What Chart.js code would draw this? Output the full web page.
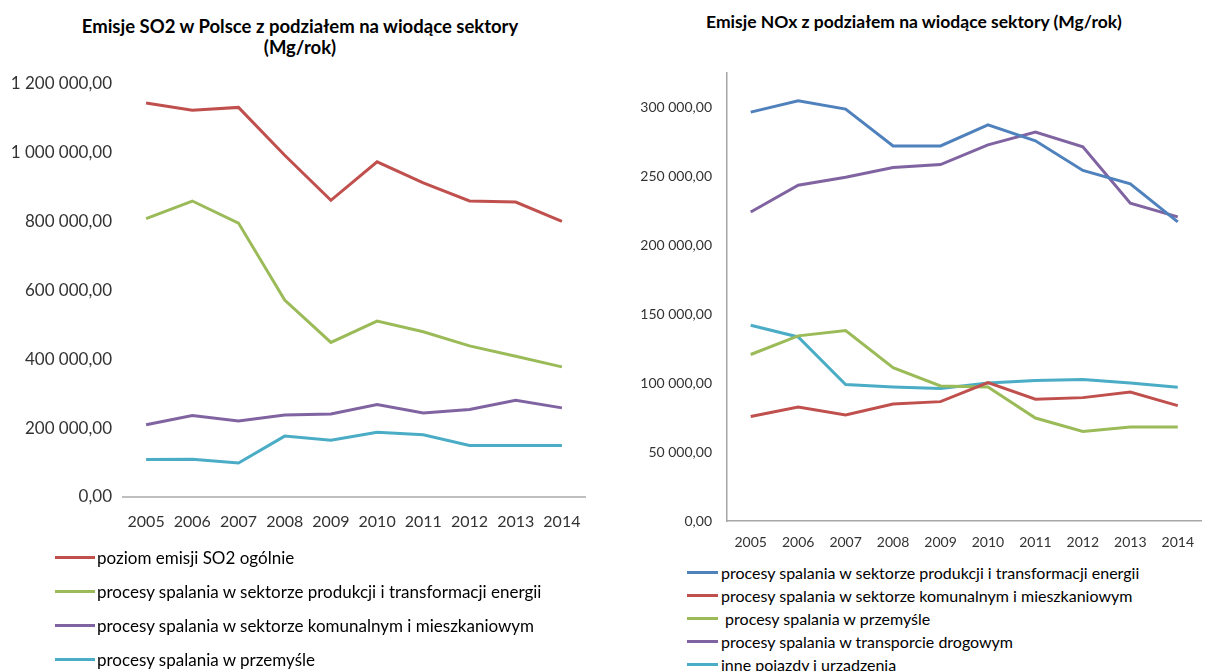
<!DOCTYPE html>
<html lang="pl">
<head>
<meta charset="utf-8">
<script src="https://cdn.jsdelivr.net/npm/chart.js@4.4.1/dist/chart.umd.min.js"></script>
<style>
  html, body { margin: 0; padding: 0; background: #fff; }
  body { width: 1207px; height: 671px; position: relative; overflow: hidden; font-family: Lato, "Open Sans", sans-serif; color: #000; }
  .title { position: absolute; font-weight: bold; text-align: center; color: #000; }
  #so2-title { left: 0; top: 16px; width: 600px; font-size: 18.5px; line-height: 21px; }
  #nox-title { left: 600px; top: 11px; width: 628px; font-size: 17.5px; line-height: 22px; }
  canvas { position: absolute; top: 0; }
  #so2 { left: 0; }
  #nox { left: 600px; }
  .legend { position: absolute; color: #000; }
  .legend div { display: flex; align-items: center; white-space: pre; }
  .legend i { display: inline-block; height: 3px; flex: none; }
  #so2-legend { left: 55px; top: 540px; font-size: 17px; }
  #so2-legend div { height: 34px; }
  #so2-legend i { width: 40px; margin-right: 2px; }
  #nox-legend { left: 687px; top: 561px; font-size: 16px; }
  #nox-legend div { height: 23px; }
  #nox-legend i { width: 31px; margin-right: 3px; }
</style>
</head>
<body>
<div class="title" id="so2-title">Emisje SO2 w Polsce z podziałem na wiodące sektory<br>(Mg/rok)</div>
<div class="title" id="nox-title">Emisje NOx z podziałem na wiodące sektory (Mg/rok)</div>
<canvas id="so2" width="600" height="545"></canvas>
<canvas id="nox" width="607" height="560"></canvas>
<div class="legend" id="so2-legend"></div>
<div class="legend" id="nox-legend"></div>
<script>
const years = ["2005", "2006", "2007", "2008", "2009", "2010", "2011", "2012", "2013", "2014"];

// SO2, Mg/rok
const so2Total = [1145000, 1124000, 1132000, 993000, 862000, 974000, 913000, 860000, 857000, 801000];
const so2Energy = [809000, 860000, 796000, 572000, 449000, 511000, 480000, 439000, 409000, 378000];
const so2Communal = [210000, 237000, 221000, 238000, 241000, 269000, 244000, 254000, 281000, 259000];
const so2Industry = [109000, 110000, 99000, 177000, 165000, 188000, 181000, 150000, 150000, 150000];
const so2Ticks = [0, 200000, 400000, 600000, 800000, 1000000, 1200000];

// NOx, Mg/rok
const noxEnergy = [296600, 304800, 298800, 272100, 272100, 287400, 275800, 254300, 244600, 217000];
const noxCommunal = [75800, 82700, 76900, 84900, 86600, 100400, 88300, 89500, 93600, 83700];
const noxIndustry = [120800, 134300, 138200, 111300, 98000, 97200, 74700, 64900, 68200, 68200];
const noxRoad = [224200, 243600, 249400, 256400, 258600, 272900, 282100, 271400, 230600, 220600];
const noxOther = [142000, 133500, 99000, 97200, 96100, 100100, 101900, 102600, 100100, 97000];
const noxTicks = [0, 50000, 100000, 150000, 200000, 250000, 300000];

const RED = "#C0504D", GREEN = "#9BBB59", PURPLE = "#8064A2", AQUA = "#4BACC6", BLUE = "#4F81BD";

function plNumber(v) {
  return Math.round(v).toString().replace(/\B(?=(\d{3})+(?!\d))/g, " ") + ",00";
}

function line(label, data, color) {
  return { label, data, borderColor: color, backgroundColor: color, borderWidth: 3, pointRadius: 0, tension: 0 };
}

function buildLegend(el, datasets) {
  el.innerHTML = datasets
    .map((d) => `<div><i style="background:${d.borderColor}"></i><span>${d.label}</span></div>`)
    .join("");
}

Chart.defaults.font.family = 'Lato, "Open Sans", sans-serif';
Chart.defaults.color = "#333";

const so2Sets = [
  line("poziom emisji SO2 ogólnie", so2Total, RED),
  line("procesy spalania w sektorze produkcji i transformacji energii", so2Energy, GREEN),
  line("procesy spalania w sektorze komunalnym i mieszkaniowym", so2Communal, PURPLE),
  line("procesy spalania w przemyśle", so2Industry, AQUA),
];

new Chart(document.getElementById("so2"), {
  type: "line",
  data: { labels: years, datasets: so2Sets },
  options: {
    responsive: false,
    animation: false,
    layout: { padding: { top: 84, right: 15, left: 0, bottom: 0 } },
    plugins: { legend: { display: false }, tooltip: { enabled: false } },
    scales: {
      x: {
        offset: true,
        grid: { display: false, drawTicks: false },
        border: { display: true, color: "#BFBFBF", width: 2 },
        ticks: { font: { size: 16 }, padding: 15, maxRotation: 0 },
        afterFit: (s) => { s.height = 48; },
      },
      y: {
        min: 0,
        max: 1200000,
        grid: { display: false, drawTicks: false },
        border: { display: false },
        ticks: { font: { size: 17 }, padding: 11, callback: plNumber, autoSkip: false },
        afterBuildTicks: (s) => { s.ticks = so2Ticks.map((value) => ({ value })); },
        afterFit: (s) => { s.width = 123; },
      },
    },
  },
});
buildLegend(document.getElementById("so2-legend"), so2Sets);

const noxSets = [
  line("procesy spalania w sektorze produkcji i transformacji energii", noxEnergy, BLUE),
  line("procesy spalania w sektorze komunalnym i mieszkaniowym", noxCommunal, RED),
  line(" procesy spalania w przemyśle", noxIndustry, GREEN),
  line("procesy spalania w transporcie drogowym", noxRoad, PURPLE),
  line("inne pojazdy i urządzenia", noxOther, AQUA),
];

new Chart(document.getElementById("nox"), {
  type: "line",
  data: { labels: years, datasets: noxSets },
  options: {
    responsive: false,
    animation: false,
    layout: { padding: { top: 73, right: 0, left: 0, bottom: 0 } },
    plugins: { legend: { display: false }, tooltip: { enabled: false } },
    scales: {
      x: {
        offset: true,
        grid: { display: false, drawTicks: false },
        border: { display: true, color: "#A6A6A6", width: 1.5 },
        ticks: { font: { size: 14 }, padding: 13, maxRotation: 0 },
        afterFit: (s) => { s.height = 39; },
      },
      y: {
        min: 0,
        max: 325000,
        grid: { display: false, drawTicks: false },
        border: { display: true, color: "#A6A6A6", width: 1.5 },
        ticks: { font: { size: 14 }, padding: 15, callback: plNumber, autoSkip: false },
        afterBuildTicks: (s) => { s.ticks = noxTicks.map((value) => ({ value })); },
        afterFit: (s) => { s.width = 127; },
      },
    },
  },
});
buildLegend(document.getElementById("nox-legend"), noxSets);
</script>
</body>
</html>
